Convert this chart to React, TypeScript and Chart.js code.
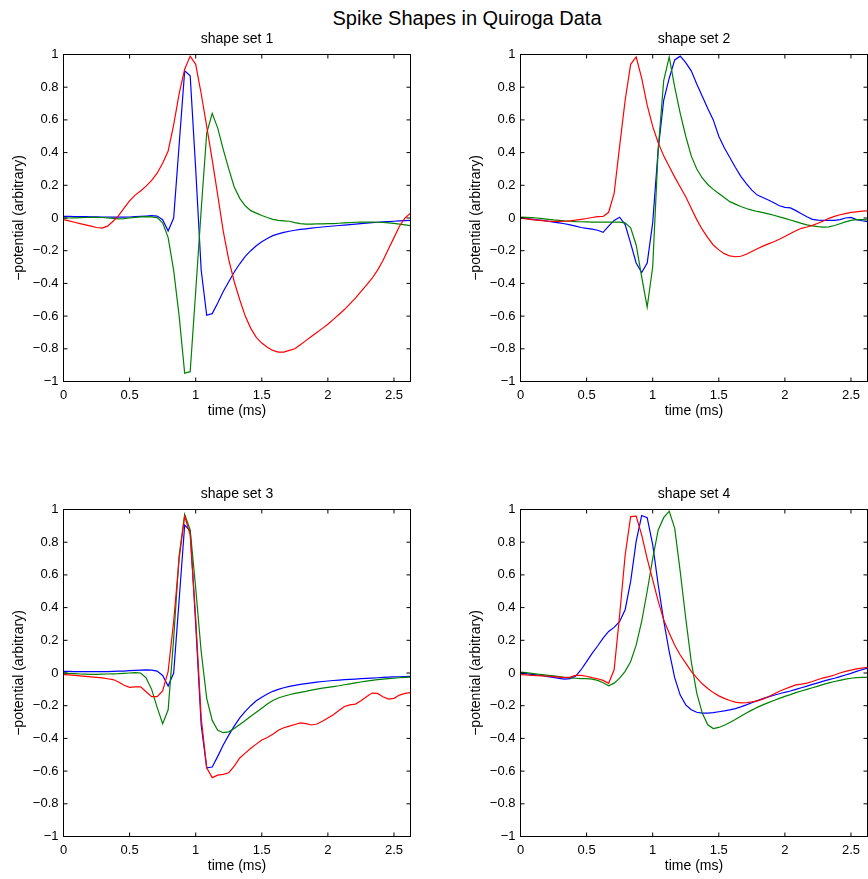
import React, { useEffect, useRef } from "react";
import { Chart, registerables } from "chart.js";

Chart.register(...registerables);

const FONT = "'Liberation Sans', Arial, Helvetica, sans-serif";

// 64 samples per spike, sampled at 24 kHz
const SAMPLE_RATE_KHZ = 24;
const N_SAMPLES = 64;
const times = Array.from({ length: N_SAMPLES }, (_, i) => i / SAMPLE_RATE_KHZ);
const X_MAX = 2.625;

const xTicks = [0, 0.5, 1, 1.5, 2, 2.5];
const yTicks = [-1, -0.8, -0.6, -0.4, -0.2, 0, 0.2, 0.4, 0.6, 0.8, 1];

const plotTitles = ["shape set 1", "shape set 2", "shape set 3", "shape set 4"];
const mainTitle = "Spike Shapes in Quiroga Data";
const xLabel = "time (ms)";
const yLabel = "\u2212potential (arbitrary)";

const RED = "#ff0000";
const GREEN = "#008000";
const BLUE = "#0000ff";

// ---- shape set 1 ----
const set1Red = [
  -0.01, -0.018, -0.026, -0.034, -0.042, -0.05, -0.058, -0.062, -0.05, -0.02,
  0.015, 0.06, 0.105, 0.14, 0.165, 0.195, 0.23, 0.274, 0.335, 0.41,
  0.57, 0.76, 0.91, 0.99, 0.94, 0.76, 0.56, 0.355, 0.14, -0.08,
  -0.255, -0.39, -0.5, -0.6, -0.675, -0.73, -0.765, -0.79, -0.81, -0.82,
  -0.82, -0.81, -0.8, -0.775, -0.75, -0.725, -0.7, -0.675, -0.65, -0.62,
  -0.59, -0.56, -0.525, -0.49, -0.45, -0.41, -0.37, -0.32, -0.26, -0.19,
  -0.12, -0.05, 0.0, 0.03,
];
const set1Green = [
  0.0, 0.0, 0.001, 0.002, 0.003, 0.004, 0.004, 0.003, 0.001, -0.002,
  -0.005, -0.004, 0.0, 0.004, 0.007, 0.008, 0.007, 0.002, -0.03, -0.12,
  -0.32, -0.6, -0.95, -0.94, -0.45, 0.05, 0.52, 0.64, 0.55, 0.42,
  0.3, 0.19, 0.12, 0.075, 0.045, 0.03, 0.015, 0.003, -0.008, -0.014,
  -0.017, -0.02, -0.028, -0.034, -0.037, -0.037, -0.036, -0.036, -0.035, -0.034,
  -0.032, -0.03, -0.028, -0.026, -0.025, -0.025, -0.025, -0.026, -0.027, -0.03,
  -0.033, -0.037, -0.042, -0.047,
];
const set1Blue = [
  0.01, 0.01, 0.009, 0.008, 0.008, 0.007, 0.007, 0.006, 0.006, 0.005,
  0.005, 0.005, 0.006, 0.008, 0.01, 0.012, 0.014, 0.012, -0.01, -0.08,
  0.0, 0.45, 0.9, 0.87, 0.3, -0.32, -0.595, -0.585, -0.52, -0.45,
  -0.39, -0.33, -0.28, -0.235, -0.2, -0.17, -0.145, -0.125, -0.108, -0.097,
  -0.088, -0.081, -0.075, -0.07, -0.066, -0.062, -0.058, -0.055, -0.052, -0.049,
  -0.046, -0.043, -0.04, -0.037, -0.034, -0.031, -0.028, -0.026, -0.024, -0.022,
  -0.02, -0.018, -0.016, -0.014,
];

// ---- shape set 2 ----
const set2Red = [
  0.0, -0.005, -0.01, -0.013, -0.016, -0.019, -0.021, -0.021, -0.02, -0.017,
  -0.013, -0.008, -0.003, 0.003, 0.008, 0.01, 0.035, 0.15, 0.44, 0.72,
  0.94, 0.985, 0.855, 0.69, 0.56, 0.46, 0.38, 0.315, 0.25, 0.19,
  0.13, 0.06, -0.01, -0.07, -0.12, -0.165, -0.195, -0.218, -0.232, -0.237,
  -0.234, -0.222, -0.205, -0.188, -0.172, -0.158, -0.145, -0.13, -0.113, -0.095,
  -0.078, -0.063, -0.055, -0.045, -0.032, -0.018, -0.002, 0.01, 0.02, 0.027,
  0.034, 0.038, 0.042, 0.044,
];
const set2Green = [
  0.005, 0.004, 0.002, 0.0, -0.004, -0.008, -0.012, -0.015, -0.018, -0.02,
  -0.022, -0.023, -0.024, -0.025, -0.025, -0.025, -0.025, -0.025, -0.025, -0.03,
  -0.06, -0.165, -0.36, -0.545, -0.3, 0.42, 0.84, 0.985, 0.8, 0.64,
  0.5, 0.38, 0.3, 0.245, 0.205, 0.175, 0.15, 0.125, 0.1, 0.085,
  0.07, 0.058, 0.048, 0.04, 0.033, 0.025, 0.017, 0.007, -0.002, -0.012,
  -0.022, -0.033, -0.042, -0.048, -0.053, -0.056, -0.054, -0.046, -0.035, -0.024,
  -0.015, -0.01, -0.01, -0.012,
];
const set2Blue = [
  0.0, -0.003, -0.007, -0.011, -0.015, -0.02, -0.025, -0.03, -0.035, -0.042,
  -0.05, -0.058, -0.063, -0.068, -0.075, -0.088, -0.05, -0.015, 0.005, -0.04,
  -0.155, -0.275, -0.333, -0.275, -0.03, 0.42, 0.72, 0.855, 0.967, 0.99,
  0.95, 0.9, 0.82, 0.745, 0.67, 0.6, 0.5, 0.43, 0.37, 0.31,
  0.255, 0.21, 0.17, 0.14, 0.125, 0.11, 0.093, 0.075, 0.065, 0.062,
  0.045, 0.026, 0.008, -0.008, -0.013, -0.015, -0.015, -0.015, -0.01, 0.0,
  0.004, -0.01, -0.017, -0.022,
];

// ---- shape set 3 ----
const set3Red = [
  -0.01, -0.012, -0.015, -0.018, -0.021, -0.024, -0.027, -0.03, -0.035, -0.04,
  -0.055, -0.075, -0.088, -0.085, -0.085, -0.115, -0.145, -0.145, -0.11, 0.01,
  0.315, 0.7, 0.96, 0.845, 0.335, -0.275, -0.58, -0.64, -0.625, -0.62,
  -0.61, -0.57, -0.52, -0.49, -0.46, -0.435, -0.41, -0.395, -0.375, -0.35,
  -0.335, -0.325, -0.315, -0.305, -0.31, -0.318, -0.312, -0.295, -0.275, -0.255,
  -0.23, -0.205, -0.195, -0.19, -0.17, -0.145, -0.123, -0.125, -0.145, -0.16,
  -0.155, -0.135, -0.125, -0.12,
];
const set3Green = [
  0.0, -0.002, -0.004, -0.006, -0.007, -0.008, -0.008, -0.007, -0.006, -0.005,
  -0.004, -0.002, 0.0, 0.002, 0.0, -0.03, -0.1, -0.21, -0.31, -0.225,
  0.21, 0.72, 0.97, 0.875, 0.52, 0.13, -0.155, -0.29, -0.35, -0.365,
  -0.36, -0.34, -0.315, -0.29, -0.265, -0.24, -0.215, -0.19, -0.168, -0.153,
  -0.142, -0.133, -0.125, -0.118, -0.112, -0.105, -0.099, -0.093, -0.088, -0.083,
  -0.078, -0.072, -0.066, -0.06, -0.055, -0.05, -0.045, -0.041, -0.038, -0.035,
  -0.032, -0.029, -0.027, -0.025,
];
const set3Blue = [
  0.01, 0.01, 0.009, 0.008, 0.008, 0.008, 0.008, 0.008, 0.009, 0.01,
  0.011, 0.012, 0.014, 0.016, 0.018, 0.019, 0.018, 0.012, -0.015, -0.08,
  0.0, 0.45, 0.905, 0.87, 0.3, -0.32, -0.58, -0.575, -0.51, -0.44,
  -0.38, -0.325, -0.275, -0.235, -0.2, -0.17, -0.148, -0.128, -0.112, -0.1,
  -0.09, -0.082, -0.076, -0.07, -0.065, -0.06, -0.056, -0.052, -0.049, -0.046,
  -0.043, -0.041, -0.039, -0.037, -0.035, -0.033, -0.031, -0.029, -0.027, -0.025,
  -0.024, -0.023, -0.022, -0.021,
];

// ---- shape set 4 ----
const set4Red = [
  -0.01, -0.012, -0.014, -0.016, -0.018, -0.02, -0.022, -0.025, -0.028, -0.025,
  -0.015, -0.015, -0.02, -0.028, -0.035, -0.045, -0.063, 0.02, 0.355, 0.72,
  0.957, 0.96, 0.845, 0.7, 0.57, 0.44, 0.325, 0.245, 0.17, 0.11,
  0.06, 0.01, -0.03, -0.066, -0.095, -0.12, -0.14, -0.155, -0.168, -0.178,
  -0.183, -0.182, -0.177, -0.17, -0.16, -0.145, -0.128, -0.112, -0.098, -0.085,
  -0.073, -0.068, -0.062, -0.052, -0.04, -0.03, -0.022, -0.012, 0.0, 0.01,
  0.018, 0.025, 0.03, 0.035,
];
const set4Green = [
  0.005, 0.002, -0.002, -0.006, -0.01, -0.014, -0.018, -0.022, -0.026, -0.03,
  -0.032, -0.034, -0.035, -0.037, -0.045, -0.06, -0.078, -0.062, -0.031, 0.01,
  0.07, 0.17, 0.315, 0.5, 0.7, 0.875, 0.95, 0.99, 0.885, 0.62,
  0.335, 0.07, -0.123, -0.245, -0.317, -0.34, -0.333, -0.32, -0.303, -0.285,
  -0.265, -0.245, -0.227, -0.21, -0.195, -0.181, -0.168, -0.155, -0.143, -0.132,
  -0.12, -0.11, -0.1, -0.09, -0.08, -0.07, -0.06, -0.052, -0.045, -0.038,
  -0.032, -0.028, -0.027, -0.027,
];
const set4Blue = [
  0.0, -0.004, -0.008, -0.012, -0.017, -0.022, -0.027, -0.033, -0.038, -0.035,
  -0.02, 0.02, 0.07, 0.12, 0.165, 0.213, 0.254, 0.279, 0.315, 0.387,
  0.56, 0.805, 0.963, 0.95, 0.785, 0.54, 0.32, 0.13, -0.03, -0.135,
  -0.195, -0.225, -0.24, -0.245, -0.245, -0.242, -0.237, -0.232, -0.226, -0.218,
  -0.207, -0.195, -0.182, -0.169, -0.157, -0.146, -0.136, -0.127, -0.118, -0.11,
  -0.1, -0.09, -0.08, -0.07, -0.06, -0.05, -0.041, -0.032, -0.022, -0.012,
  -0.002, 0.01, 0.02, 0.03,
];

type Series = { values: number[]; color: string };

const shapeSets: Series[][] = [
  [
    { values: set1Red, color: RED },
    { values: set1Green, color: GREEN },
    { values: set1Blue, color: BLUE },
  ],
  [
    { values: set2Red, color: RED },
    { values: set2Green, color: GREEN },
    { values: set2Blue, color: BLUE },
  ],
  [
    { values: set3Red, color: RED },
    { values: set3Green, color: GREEN },
    { values: set3Blue, color: BLUE },
  ],
  [
    { values: set4Red, color: RED },
    { values: set4Green, color: GREEN },
    { values: set4Blue, color: BLUE },
  ],
];

// layout (page pixels)
const CANVAS_W = 434;
const CANVAS_H = 420;
const AXIS_LEFT = 63.5; // y-scale width inside canvas
const PAD_TOP = 28.5;
const PAD_RIGHT = 23.5;
const X_SCALE_H = 64.5;
const PLOT_W = CANVAS_W - AXIS_LEFT - PAD_RIGHT;
const positions = [
  { left: 0, top: 26 },
  { left: 457, top: 26 },
  { left: 0, top: 481 },
  { left: 457, top: 481 },
];

const fmt = (v: number) => (v < 0 ? "\u2212" + String(Math.abs(v)) : String(v));

const boxPlugin = {
  id: "matlabBox",
  afterDraw(chart: any) {
    const { ctx, chartArea: a, scales } = chart;
    const L = 4;
    ctx.save();
    ctx.strokeStyle = "#000";
    ctx.lineWidth = 1;
    ctx.strokeRect(a.left, a.top, a.right - a.left, a.bottom - a.top);
    ctx.beginPath();
    for (const v of xTicks) {
      const px = scales.x.getPixelForValue(v);
      ctx.moveTo(px, a.bottom);
      ctx.lineTo(px, a.bottom - L);
      ctx.moveTo(px, a.top);
      ctx.lineTo(px, a.top + L);
    }
    for (const v of yTicks) {
      const py = scales.y.getPixelForValue(v);
      ctx.moveTo(a.left, py);
      ctx.lineTo(a.left + L, py);
      ctx.moveTo(a.right, py);
      ctx.lineTo(a.right - L, py);
    }
    ctx.stroke();
    ctx.restore();
  },
};

function Subplot({ left, top, title, series }: { left: number; top: number; title: string; series: Series[] }) {
  const ref = useRef<HTMLCanvasElement>(null);
  useEffect(() => {
    const chart = new Chart(ref.current as HTMLCanvasElement, {
      type: "line",
      data: {
        datasets: series.map((s) => ({
          data: s.values.map((v, i) => ({ x: times[i], y: v })),
          borderColor: s.color,
          backgroundColor: s.color,
          borderWidth: 1.2,
          pointRadius: 0,
          fill: false,
          tension: 0,
        })),
      },
      options: {
        animation: false,
        responsive: false,
        devicePixelRatio: 1,
        layout: { padding: { left: 0, top: PAD_TOP, right: PAD_RIGHT, bottom: 0 } },
        plugins: { legend: { display: false }, tooltip: { enabled: false }, title: { display: false } },
        scales: {
          x: {
            type: "linear",
            min: 0,
            max: X_MAX,
            afterBuildTicks: (s: any) => {
              s.ticks = xTicks.map((v) => ({ value: v }));
            },
            afterFit: (s: any) => {
              s.height = X_SCALE_H;
            },
            grid: { display: false, drawTicks: false, tickLength: 0 },
            border: { display: false },
            ticks: {
              padding: 6,
              color: "#000",
              font: { family: FONT, size: 13 },
              maxRotation: 0,
              autoSkip: false,
              callback: (v: any) => fmt(Number(v)),
            },
            title: {
              display: true,
              text: xLabel,
              color: "#000",
              font: { family: FONT, size: 14 },
              padding: { top: 0, bottom: 26 },
            },
          },
          y: {
            type: "linear",
            min: -1,
            max: 1,
            afterBuildTicks: (s: any) => {
              s.ticks = yTicks.map((v) => ({ value: v }));
            },
            afterFit: (s: any) => {
              s.width = AXIS_LEFT;
            },
            grid: { display: false, drawTicks: false, tickLength: 0 },
            border: { display: false },
            ticks: {
              padding: 5,
              color: "#000",
              font: { family: FONT, size: 13 },
              autoSkip: false,
              callback: (v: any) => fmt(Number(v)),
            },
            title: {
              display: true,
              text: yLabel,
              color: "#000",
              font: { family: FONT, size: 14 },
              padding: { top: 11, bottom: 0 },
            },
          },
        },
      },
      plugins: [boxPlugin],
    } as any);
    return () => chart.destroy();
  }, []);
  return (
    <>
      <canvas
        ref={ref}
        width={CANVAS_W}
        height={CANVAS_H}
        style={{ position: "absolute", left, top, width: CANVAS_W, height: CANVAS_H }}
      />
      <div
        style={{
          position: "absolute",
          left: left + AXIS_LEFT,
          width: PLOT_W,
          top: top + 4,
          textAlign: "center",
          fontFamily: FONT,
          fontSize: 14,
          lineHeight: "16px",
          color: "#000",
          whiteSpace: "nowrap",
        }}
      >
        {title}
      </div>
    </>
  );
}

export default function App() {
  return (
    <div
      style={{
        position: "absolute",
        left: 0,
        top: 0,
        width: 868,
        height: 879,
        overflow: "hidden",
        background: "#fff",
      }}
    >
      <div
        style={{
          position: "absolute",
          left: 0,
          width: 934,
          top: 7,
          textAlign: "center",
          fontFamily: FONT,
          fontSize: 20,
          lineHeight: "22px",
          color: "#000",
          whiteSpace: "nowrap",
        }}
      >
        {mainTitle}
      </div>
      {shapeSets.map((series, k) => (
        <Subplot key={k} left={positions[k].left} top={positions[k].top} title={plotTitles[k]} series={series} />
      ))}
    </div>
  );
}
